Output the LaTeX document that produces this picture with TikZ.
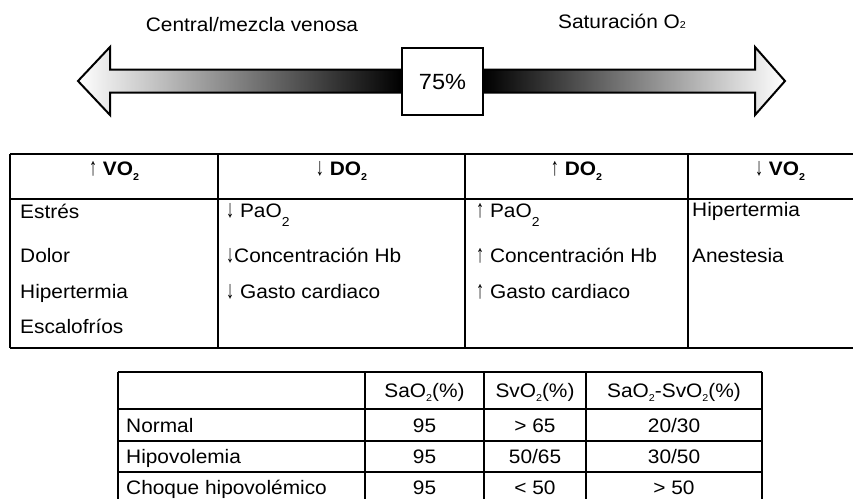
\documentclass[tikz,border=0pt]{standalone}
\usepackage{fontspec}
\setmainfont{Liberation Sans}[FakeStretch=1.07]
\newcommand{\subtwo}[2]{\raisebox{-#1}{\fontsize{#2}{#2}\selectfont 2}}
\newcommand{\up}{\scalebox{0.6}[1]{\fontsize{25}{25}\selectfont ↑}}
\newcommand{\dn}{\scalebox{0.6}[1]{\fontsize{25}{25}\selectfont ↓}}
\begin{document}
\begin{tikzpicture}[x=1pt, y=-1pt,
    every node/.style={inner sep=0pt, font=\fontsize{19.5}{23}\selectfont},
    lft/.style={anchor=base west}, ctr/.style={anchor=base},
    rule/.style={line width=1.5pt}]
                \useasboundingbox (0,0) rectangle (853,499);

                \draw[line width=2pt, left color=white, right color=black] (402,69.5) -- (110,69.5) -- (110,47) -- (78,81) -- (110,115) -- (110,92.5) -- (402,92.5);
                \draw[line width=2pt, left color=black, right color=white] (483,69.5) -- (755,69.5) -- (755,47) -- (785,81) -- (755,115) -- (755,92.5) -- (483,92.5);
                \node[draw, fill=white, line width=1.2pt, minimum width=81pt, minimum height=67pt, font=\fontsize{22}{26}\selectfont] (pct) at (442.5,81.5) {75\%};
                \node[ctr] (venosa) at (252,31.5) {Central/mezcla venosa}; \node[ctr] (satur) at (622,28.5) {Saturación O{\fontsize{10}{10}\selectfont 2}};

                \draw[rule] (10,154) -- (853,154); \draw[rule] (10,199) -- (853,199); \draw[rule] (10,348) -- (853,348);
                \foreach \x in {10,218,465,688} \draw[rule] (\x,154) -- (\x,348);
                \node[ctr] (hvo1) at (114,175) {\up~\textbf{VO\subtwo{5pt}{10}}}; \node[ctr] (hdo1) at (341.5,175) {\dn~\textbf{DO\subtwo{5pt}{10}}};
                \node[ctr] (hdo2) at (576.5,175) {\up~\textbf{DO\subtwo{5pt}{10}}}; \node[ctr] (hvo2) at (780,175) {\dn~\textbf{VO\subtwo{5pt}{10}}};
                \node[lft] (est) at (20,218) {Estrés}; \node[lft] (dol) at (20,262) {Dolor}; \node[lft] (hip1) at (20,298) {Hipertermia}; \node[lft] (esc) at (20,333) {Escalofríos};
                \node[lft] (pao1) at (226,217) {\dn~PaO\subtwo{9pt}{13}}; \node[lft] (hb1) at (226,262) {\dn Concentración Hb}; \node[lft] (gc1) at (226,298) {\dn~Gasto cardiaco};
                \node[lft] (pao2) at (476,217) {\up~PaO\subtwo{9pt}{13}}; \node[lft] (hb2) at (476,262) {\up~Concentración Hb}; \node[lft] (gc2) at (476,298) {\up~Gasto cardiaco};
                \node[lft] (hip2) at (692,216) {Hipertermia}; \node[lft] (anes) at (692,262) {Anestesia};

                \foreach \y in {372,409,441,472} \draw[rule] (118,\y) -- (762,\y);
                \foreach \x in {118,365,484,586,762} \draw[rule] (\x,372) -- (\x,499);
                \node[ctr] (sao) at (424.5,397) {SaO\subtwo{4pt}{10}(\%)}; \node[ctr] (svo) at (535,397) {SvO\subtwo{4pt}{10}(\%)}; \node[ctr] (dif) at (674,397) {SaO\subtwo{4pt}{10}-SvO\subtwo{4pt}{10}(\%)};
                \node[lft] (norm) at (126,432) {Normal}; \node[ctr] (n1) at (424.5,432) {95}; \node[ctr] (n2) at (535,432) {> 65}; \node[ctr] (n3) at (674,432) {20/30};
                \node[lft] (hipo) at (126,463) {Hipovolemia}; \node[ctr] (h1) at (424.5,463) {95}; \node[ctr] (h2) at (535,463) {50/65}; \node[ctr] (h3) at (674,463) {30/50};
                \node[lft] (choq) at (126,494) {Choque hipovolémico}; \node[ctr] (c1) at (424.5,494) {95}; \node[ctr] (c2) at (535,494) {< 50}; \node[ctr] (c3) at (674,494) {> 50};
            \end{tikzpicture}
\end{document}
